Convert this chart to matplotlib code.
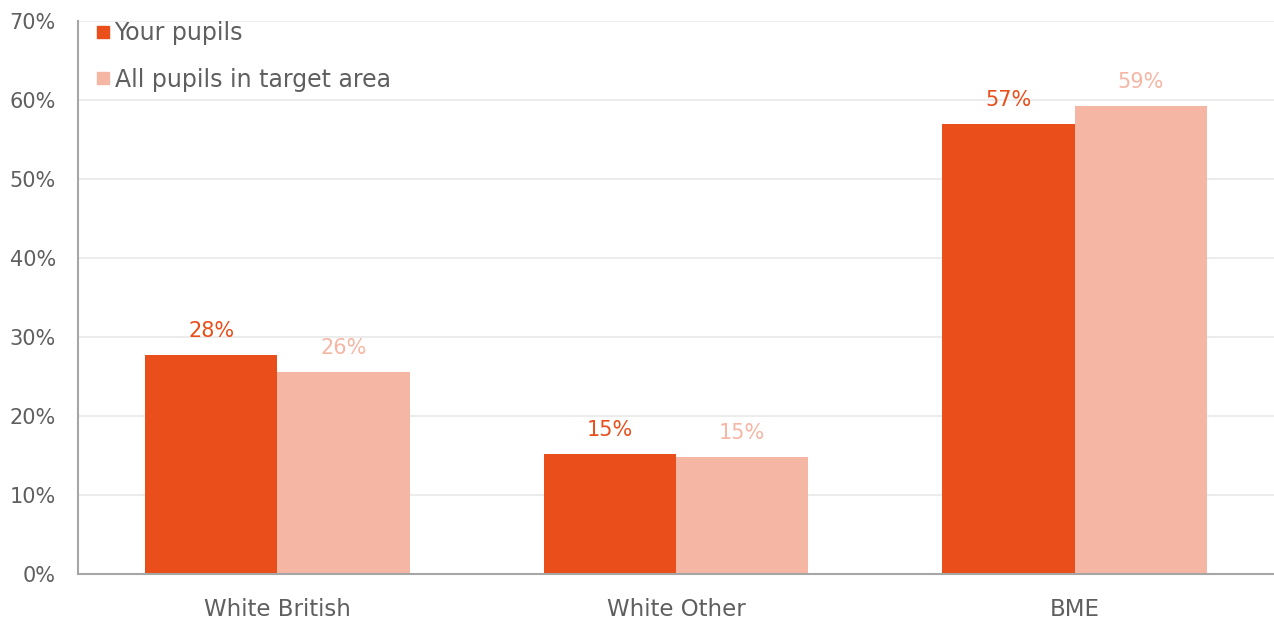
import numpy as np
import matplotlib.pyplot as plt
from matplotlib.lines import Line2D

categories = ["White British", "White Other", "BME"]
your_pupils = [27.7, 15.2, 57.0]
target_area = [25.6, 14.8, 59.2]
series_names = ["Your pupils", "All pupils in target area"]

orange = "#E94E1B"
pink = "#F5B6A4"
grey = "#5f5f5f"

plt.rcParams["font.family"] = ["DejaVu Sans"]

fig = plt.figure(figsize=(12.74, 6.25), dpi=100)
ax = fig.add_axes([78 / 1274, 51 / 625, 1196 / 1274, 553 / 625])

x = np.arange(len(categories))
w = 0.332
b1 = ax.bar(x - w / 2, your_pupils, w, color=orange)
b2 = ax.bar(x + w / 2, target_area, w, color=pink)

for bars, vals, col in [(b1, your_pupils, orange), (b2, target_area, pink)]:
    for rect, v in zip(bars, vals):
        ax.annotate(f"{v:.0f}%", (rect.get_x() + rect.get_width() / 2, v),
                    xytext=(0, 10), textcoords="offset points",
                    ha="center", va="bottom", color=col, fontsize=15)

ax.set_xlim(-0.5, 2.5)
ax.set_ylim(0, 70)
ax.set_yticks(range(0, 71, 10))
ax.set_yticklabels([f"{t}%" for t in range(0, 71, 10)])
ax.set_xticks(x)
ax.set_xticklabels(categories)
ax.tick_params(axis="both", length=0, colors=grey)
ax.tick_params(axis="y", pad=16, labelsize=15)
ax.tick_params(axis="x", pad=17, labelsize=16.5)

ax.grid(axis="y", color="#ebebeb", linewidth=1.3)
ax.set_axisbelow(True)
for s in ["top", "right"]:
    ax.spines[s].set_visible(False)
for s in ["left", "bottom"]:
    ax.spines[s].set_color("#a6a6a6")
    ax.spines[s].set_linewidth(1.5)

handles = [Line2D([], [], marker="s", linestyle="none", markersize=9, color=c)
           for c in (orange, pink)]
ax.legend(handles, series_names, loc="upper left", bbox_to_anchor=(-0.006, 1.038),
          frameon=False, fontsize=17, labelcolor=grey, handletextpad=0.05,
          handlelength=0.9, labelspacing=0.95)

fig.savefig("out.png", dpi=100)
